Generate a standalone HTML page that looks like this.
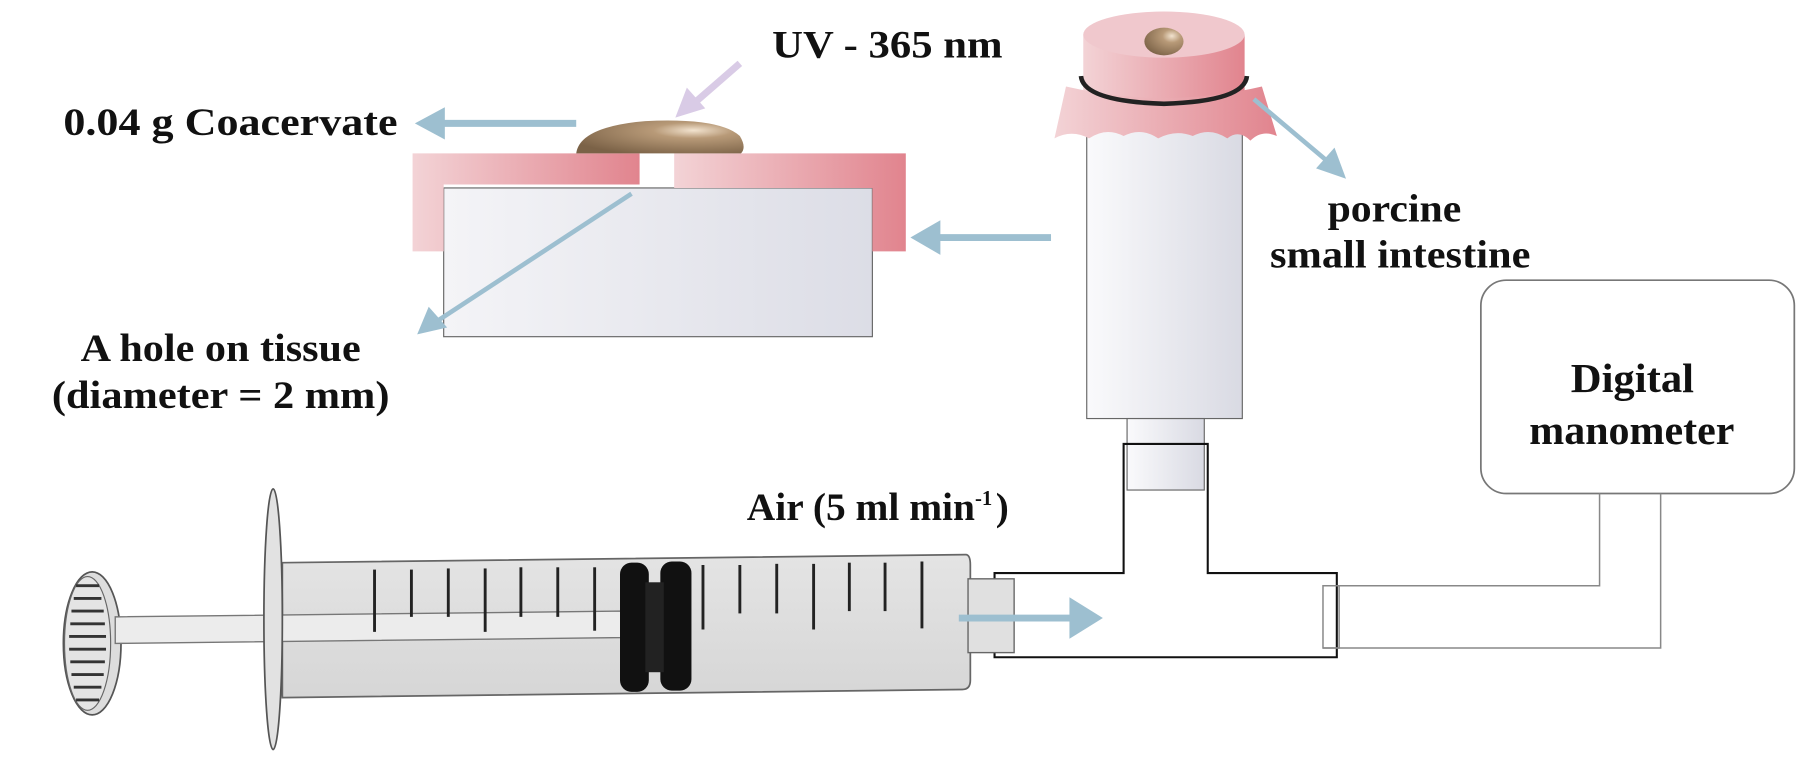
<!DOCTYPE html>
<html><head><meta charset="utf-8"><style>
html,body{margin:0;padding:0;background:#fff;}
svg{display:block;}
text{font-family:"Liberation Serif",serif;font-weight:bold;fill:#111;}
</style></head><body>
<svg width="1807" height="761" viewBox="0 0 1568 660" preserveAspectRatio="none" xmlns="http://www.w3.org/2000/svg">
<defs>
<linearGradient id="pink" x1="0" x2="1"><stop offset="0" stop-color="#f3d3d6"/><stop offset="1" stop-color="#e1848e"/></linearGradient>
<linearGradient id="box" x1="0" x2="1"><stop offset="0" stop-color="#f4f4f7"/><stop offset="1" stop-color="#dcdde6"/></linearGradient>
<linearGradient id="tube" x1="0" x2="1"><stop offset="0" stop-color="#fafafc"/><stop offset="1" stop-color="#d9dae3"/></linearGradient>
<radialGradient id="dome" cx="0.7" cy="0.3" r="0.8"><stop offset="0" stop-color="#f2e3cf"/><stop offset="0.3" stop-color="#b89a78"/><stop offset="1" stop-color="#7b6247"/></radialGradient>
<linearGradient id="barrel" x1="0" y1="0" x2="0" y2="1"><stop offset="0" stop-color="#e4e4e4"/><stop offset="1" stop-color="#d6d6d6"/></linearGradient>
</defs>

<line x1="642" y1="55" x2="604" y2="88" stroke="#d9cbe6" stroke-width="6"/>
<polygon points="586,102 596,76 612,94" fill="#d9cbe6"/>

<line x1="500" y1="107" x2="380" y2="107" stroke="#9dbfd0" stroke-width="6"/>
<polygon points="360,107 386,93 386,121" fill="#9dbfd0"/>

<rect x="385" y="163" width="372" height="129" fill="url(#box)" stroke="#666" stroke-width="1"/>
<path d="M358 133 H555 V160 H385 V218 H358 Z" fill="url(#pink)"/>
<path d="M585 133 H786 V218 H757 V163 H585 Z" fill="url(#pink)"/>
<path d="M500 133 Q503 110 560 105 Q625 102 642 118 Q648 128 643 133 Z" fill="url(#dome)"/>
<line x1="548" y1="168" x2="380" y2="278" stroke="#9dbfd0" stroke-width="4"/>
<polygon points="362,290 372,266 388,284" fill="#9dbfd0"/>
<line x1="912" y1="206" x2="812" y2="206" stroke="#9dbfd0" stroke-width="6"/>
<polygon points="790,206 816,191 816,221" fill="#9dbfd0"/>

<rect x="943" y="112" width="135" height="251" fill="url(#tube)" stroke="#666"/>
<rect x="978" y="363" width="67" height="62" fill="url(#tube)" stroke="#666"/>
<path d="M940 30 V95 Q1010 110 1080 95 V30 Z" fill="url(#pink)"/>
<path d="M925 75 Q1010 95 1095 75 L1108 118 Q1095 112 1085 122 Q1075 112 1065 120 Q1050 110 1035 118 Q1020 112 1005 120 Q990 110 975 118 Q960 110 945 120 Q930 112 915 120 Z" fill="url(#pink)"/>
<ellipse cx="1010" cy="30" rx="70" ry="20" fill="#f0c8cd"/>
<path d="M938 66 Q940 88 1010 90 Q1080 88 1082 66" fill="none" stroke="#222" stroke-width="4"/>
<ellipse cx="1010" cy="36" rx="17" ry="12" fill="url(#dome)"/>
<line x1="1088" y1="86" x2="1152" y2="140" stroke="#9dbfd0" stroke-width="4"/>
<polygon points="1168,155 1142,146 1158,128" fill="#9dbfd0"/>

<path d="M975 385 H1048 V497 H1160 V570 H863 V497 H975 Z" fill="none" stroke="#111" stroke-width="1.8"/>

<rect x="1285" y="243" width="272" height="185" rx="22" fill="#fff" stroke="#777" stroke-width="1.5"/>
<path d="M1148 508 H1388 V428 M1148 562 H1441 V428" fill="none" stroke="#888" stroke-width="1.3"/>
<rect x="1148" y="508" width="14" height="54" fill="none" stroke="#888" stroke-width="1.3"/>

<ellipse cx="80" cy="558" rx="25" ry="62" fill="#ddd" stroke="#555" stroke-width="1.5"/>
<ellipse cx="76" cy="558" rx="20" ry="58" fill="#e4e4e4" stroke="#666" stroke-width="1"/>
<g stroke="#333" stroke-width="2.5">
<line x1="66" y1="508" x2="86" y2="508"/><line x1="64" y1="519" x2="88" y2="519"/><line x1="62" y1="530" x2="90" y2="530"/><line x1="61" y1="541" x2="91" y2="541"/><line x1="60" y1="552" x2="92" y2="552"/><line x1="60" y1="563" x2="92" y2="563"/><line x1="61" y1="574" x2="91" y2="574"/><line x1="62" y1="585" x2="90" y2="585"/><line x1="64" y1="596" x2="88" y2="596"/><line x1="66" y1="607" x2="86" y2="607"/>
</g>
<path d="M245 488 L838 481 Q842 481 842 490 V590 Q842 598 835 598 L245 605 Z" fill="url(#barrel)" stroke="#666" stroke-width="1.5"/>
<rect x="840" y="502" width="40" height="64" fill="#e0e0e0" stroke="#666" stroke-width="1.2"/>
<path d="M100 535 L540 530 V553 L100 558 Z" fill="#ececec" stroke="#777" stroke-width="1.2"/>
<ellipse cx="237" cy="537" rx="8" ry="113" fill="#e2e2e2" stroke="#555" stroke-width="1.5"/>
<g stroke="#222" stroke-width="2.5">
<line x1="325" y1="494" x2="325" y2="548"/><line x1="357" y1="494" x2="357" y2="535"/><line x1="389" y1="493" x2="389" y2="535"/><line x1="421" y1="493" x2="421" y2="548"/><line x1="452" y1="492" x2="452" y2="535"/><line x1="484" y1="492" x2="484" y2="535"/><line x1="516" y1="492" x2="516" y2="547"/>
<line x1="610" y1="490" x2="610" y2="546"/><line x1="642" y1="490" x2="642" y2="532"/><line x1="674" y1="489" x2="674" y2="532"/><line x1="706" y1="489" x2="706" y2="546"/><line x1="737" y1="488" x2="737" y2="530"/><line x1="768" y1="488" x2="768" y2="530"/><line x1="800" y1="487" x2="800" y2="545"/>
</g>
<rect x="538" y="488" width="25" height="112" rx="10" fill="#111"/>
<rect x="573" y="487" width="27" height="112" rx="10" fill="#111"/>
<rect x="560" y="505" width="16" height="78" fill="#222"/>

<line x1="832" y1="536" x2="930" y2="536" stroke="#9dbfd0" stroke-width="6"/>
<polygon points="957,536 928,518 928,554" fill="#9dbfd0"/>

<text x="670" y="50" font-size="34" textLength="200" lengthAdjust="spacingAndGlyphs">UV - 365 nm</text>
<text x="55" y="117" font-size="34" textLength="290" lengthAdjust="spacingAndGlyphs">0.04 g Coacervate</text>
<text x="70" y="313" font-size="34" textLength="243" lengthAdjust="spacingAndGlyphs">A hole on tissue</text>
<text x="45" y="354" font-size="34" textLength="293" lengthAdjust="spacingAndGlyphs">(diameter = 2 mm)</text>
<text x="1152" y="192" font-size="34" textLength="116" lengthAdjust="spacingAndGlyphs">porcine</text>
<text x="1102" y="232" font-size="34" textLength="226" lengthAdjust="spacingAndGlyphs">small intestine</text>
<text x="1363" y="340" font-size="36" textLength="107" lengthAdjust="spacingAndGlyphs">Digital</text>
<text x="1327" y="385" font-size="36" textLength="178" lengthAdjust="spacingAndGlyphs">manometer</text>
<text x="648" y="451" font-size="34" textLength="198" lengthAdjust="spacingAndGlyphs">Air (5 ml min</text>
<text x="846" y="438" font-size="18">-1</text>
<text x="864" y="451" font-size="34">)</text>
</svg>
</body></html>
